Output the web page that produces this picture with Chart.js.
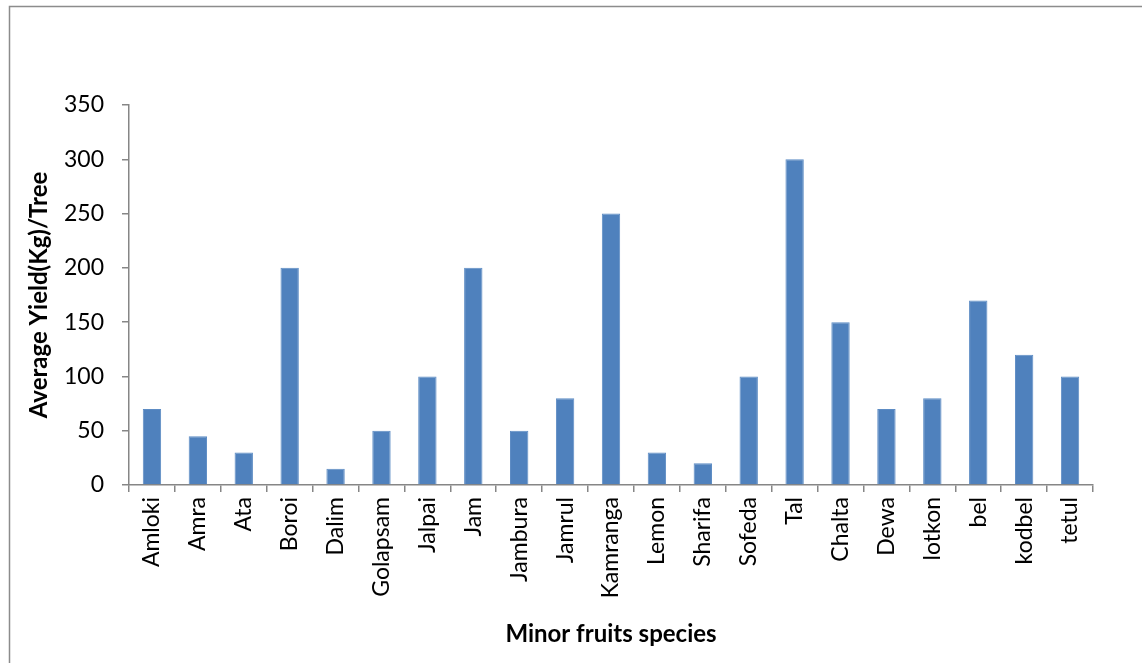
<!DOCTYPE html>
<html>
<head>
<meta charset="utf-8">
<script src="https://cdn.jsdelivr.net/npm/chart.js@4/dist/chart.umd.min.js"></script>
<style>
  html, body { margin: 0; padding: 0; background: #fff; overflow: hidden; }
  #wrap { width: 1142px; height: 663px; position: relative; }
</style>
</head>
<body>
<div id="wrap"><canvas id="c" width="1142" height="663"></canvas></div>
<script>
// Average yield per tree of minor fruit species
const species = ['Amloki', 'Amra', 'Ata', 'Boroi', 'Dalim', 'Golapsam', 'Jalpai', 'Jam', 'Jambura', 'Jamrul',
  'Kamranga', 'Lemon', 'Sharifa', 'Sofeda', 'Tal', 'Chalta', 'Dewa', 'lotkon', 'bel', 'kodbel', 'tetul'];
const yieldKg = [70, 45, 30, 200, 15, 50, 100, 200, 50, 80, 250, 30, 20, 100, 300, 150, 70, 80, 170, 120, 100];
const yTicks = [0, 50, 100, 150, 200, 250, 300, 350];

const FONT = 'Lato, "Liberation Sans", sans-serif';
const AXIS_GREY = '#868686';

// Outer frame around the chart object
const framePlugin = {
  id: 'frame',
  beforeDraw(chart) {
    const ctx = chart.ctx;
    ctx.save();
    ctx.fillStyle = '#fff';
    ctx.fillRect(0, 0, chart.width, chart.height);
    ctx.strokeStyle = '#8c8c8c';
    ctx.lineWidth = 1.5;
    ctx.strokeRect(9.5, 6.5, 1300, 800);
    ctx.restore();
  }
};

new Chart(document.getElementById('c'), {
  type: 'bar',
  data: {
    labels: species,
    datasets: [{
      data: yieldKg,
      backgroundColor: '#4F81BD',
      borderColor: '#5d8cc4',
      borderWidth: 1,
      barPercentage: 0.4,
      categoryPercentage: 1.0
    }]
  },
  options: {
    responsive: false,
    animation: false,
    devicePixelRatio: 1,
    layout: { padding: { left: 10, top: 105, right: 49, bottom: 12 } },
    plugins: { legend: { display: false }, tooltip: { enabled: false } },
    scales: {
      x: {
        offset: true,
        grid: { display: true, offset: true, drawOnChartArea: false, drawTicks: true, tickLength: 7, color: AXIS_GREY, lineWidth: 1.5 },
        border: { display: true, color: AXIS_GREY, width: 1.5 },
        ticks: { color: '#000', font: { family: FONT, size: 23 }, minRotation: 90, maxRotation: 90, autoSkip: false, padding: 5 },
        title: { display: true, text: 'Minor fruits species', color: '#000', font: { family: FONT, size: 24, weight: 'bold' }, padding: { top: 2, bottom: 2 } },
        afterFit(scale) { scale.height = 663 - 12 - 485; }
      },
      y: {
        min: 0,
        max: 350,
        afterBuildTicks(scale) { scale.ticks = yTicks.map(v => ({ value: v })); },
        grid: { display: true, drawOnChartArea: false, drawTicks: true, tickLength: 7, color: AXIS_GREY, lineWidth: 1.5 },
        border: { display: true, color: AXIS_GREY, width: 1.5 },
        ticks: { color: '#000', font: { family: FONT, size: 23 }, padding: 18 },
        title: { display: true, text: 'Average Yield(Kg)/Tree', color: '#000', font: { family: FONT, size: 24, weight: 'bold' }, padding: { top: 15, bottom: 15 } },
        afterFit(scale) { scale.width = 129 - 10; }
      }
    }
  },
  plugins: [framePlugin]
});
</script>
</body>
</html>
